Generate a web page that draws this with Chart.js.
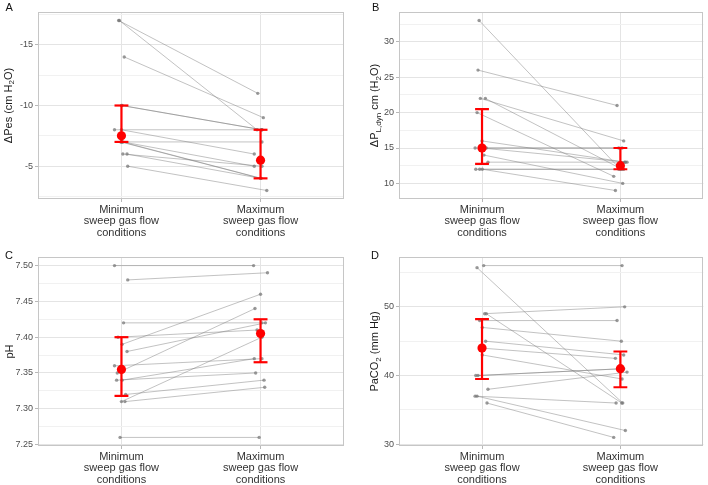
<!DOCTYPE html>
<html>
<head>
<meta charset="utf-8">
<script src="https://cdn.jsdelivr.net/npm/chart.js@4.4.1/dist/chart.umd.min.js"></script>
<style>
  body { margin: 0; background: #fff; }
  #wrap { position: relative; width: 708px; height: 485px; overflow: hidden; }
  canvas { position: absolute; }
</style>
</head>
<body>
<div id="wrap">
  <canvas id="chartA" width="354" height="242" style="left:0;top:0"></canvas>
  <canvas id="chartB" width="354" height="242" style="left:354px;top:0"></canvas>
  <canvas id="chartC" width="354" height="243" style="left:0;top:242px"></canvas>
  <canvas id="chartD" width="354" height="243" style="left:354px;top:242px"></canvas>
</div>
<script>
const categories = [
  ["Minimum", "sweep gas flow", "conditions"],
  ["Maximum", "sweep gas flow", "conditions"]
];

// A - ΔPes (cm H2O), one entry per patient
const pesMin = [-17, -17, -14, -10, -10, -8, -8, -7, -7, -7, -7, -6, -6, -5];
const pesMax = [-11, -8, -9, -8, -8, -8, -6, -7, -5, -4, -4, -5, -4, -3];
const pesJitterMin = [-0.02, -0.015, 0.02, 0, 0.005, -0.05, 0, 0, 0.01, -0.005, 0.005, 0.01, 0.04, 0.045];
const pesJitterMax = [-0.02, -0.025, 0.02, 0.01, 0.01, 0.005, -0.045, 0.01, -0.045, 0, 0.005, 0.01, 0, 0.045];
const pesMedian = [-7.5, -5.5];
const pesLow = [-10, -8];
const pesHigh = [-7, -4];
const pesTicks = [-15, -10, -5];

// B - ΔPL,dyn cm (H2O)
const pldynMin = [33, 26, 22, 22, 20, 16, 15, 15, 15, 14, 13, 12, 12, 12];
const pldynMax = [12, 21, 16, 12, 11, 13, 15, 15, 13, 10, 13, 12, 12, 9];
const pldynJitterMin = [-0.021, -0.029, -0.012, 0.024, -0.036, 0, -0.05, 0.031, -0.005, 0.014, 0.043, -0.045, -0.017, 0.002];
const pldynJitterMax = [0, -0.024, 0.024, 0.012, -0.048, 0.036, -0.012, 0.012, 0.048, 0.017, 0.031, -0.012, 0.024, -0.036];
const pldynMedian = [15, 12.5];
const pldynLow = [12.75, 12];
const pldynHigh = [20.5, 15];
const pldynTicks = [10, 15, 20, 25, 30];

// C - pH
const phMin = [7.50, 7.48, 7.42, 7.40, 7.39, 7.38, 7.36, 7.35, 7.34, 7.34, 7.32, 7.31, 7.31, 7.26];
const phMax = [7.50, 7.49, 7.42, 7.41, 7.46, 7.42, 7.37, 7.44, 7.35, 7.37, 7.34, 7.40, 7.33, 7.26];
const phJitterMin = [-0.05, 0.045, 0.015, -0.025, 0.005, 0.04, -0.05, -0.03, -0.035, 0.005, 0.03, 0, 0.025, -0.01];
const phJitterMax = [-0.05, 0.05, 0.01, -0.025, 0, 0.035, 0.01, -0.04, -0.035, -0.045, 0.025, 0.01, 0.03, -0.01];
const phMedian = [7.355, 7.405];
const phLow = [7.318, 7.365];
const phHigh = [7.40, 7.425];
const phTicks = [7.25, 7.30, 7.35, 7.40, 7.45, 7.50];

// D - PaCO2 (mm Hg)
const paco2Min = [56, 55.7, 49, 49, 48, 47, 45, 44, 43, 40, 40, 38, 37, 37, 36];
const paco2Max = [56, 36, 50, 36, 48, 45, 43, 42.5, 39.5, 41, 41, 40.5, 36, 32, 31];
const paco2JitterMin = [0.012, -0.036, 0.019, 0.031, -0.017, 0.002, 0.026, -0.005, 0.002, -0.045, -0.029, 0.043, -0.05, -0.036, 0.036];
const paco2JitterMax = [0.012, 0.017, 0.031, 0.01, -0.024, 0.007, 0.024, -0.036, 0.012, 0.024, 0.017, 0.048, -0.031, 0.036, -0.048];
const paco2Median = [44, 41];
const paco2Low = [39.5, 38.3];
const paco2High = [48.2, 43.5];
const paco2Ticks = [30, 40, 50];

Chart.defaults.font.family = "'Liberation Sans', Arial, sans-serif";
Chart.defaults.animation = false;

const RED = "#ff0000";
const CAP = 0.05;

function gridValues(ticks, lo, hi) {
  const step = ticks[1] - ticks[0];
  const out = [];
  const first = ticks[0] - step * Math.ceil((ticks[0] - lo) / step);
  for (let v = first; v <= hi + 1e-9; v += step / 2) {
    if (v >= lo - 1e-9) out.push(+v.toFixed(4));
  }
  return out;
}

// draws the panel letter, the y title (with subscripts) and the panel border
const panelDecor = {
  id: "panelDecor",
  afterDraw(chart, args, o) {
    const ctx = chart.ctx;
    const a = chart.chartArea;
    ctx.save();
    ctx.strokeStyle = "#c6c6c6";
    ctx.lineWidth = 1;
    ctx.strokeRect(Math.round(a.left) + 0.5, Math.round(a.top) + 0.5,
      Math.round(a.right - a.left) - 1, Math.round(a.bottom - a.top) - 1);

    ctx.fillStyle = "#111";
    ctx.font = "11px 'Liberation Sans', Arial, sans-serif";
    ctx.textBaseline = "alphabetic";
    ctx.textAlign = "left";
    ctx.fillText(o.letter, o.letterX, o.letterY);

    const big = "11px 'Liberation Sans', Arial, sans-serif";
    const small = "8px 'Liberation Sans', Arial, sans-serif";
    let total = 0;
    o.title.forEach(p => { ctx.font = p[1] ? small : big; total += ctx.measureText(p[0]).width; });
    ctx.translate(o.titleX, (a.top + a.bottom) / 2);
    ctx.rotate(-Math.PI / 2);
    let x = -total / 2;
    ctx.fillStyle = "#1a1a1a";
    o.title.forEach(p => {
      ctx.font = p[1] ? small : big;
      ctx.fillText(p[0], x, p[1] ? 2.5 : 0);
      x += ctx.measureText(p[0]).width;
    });
    ctx.restore();
  }
};

function makePanel(id, p) {
  const red = [];
  const gray = [];
  for (let k = 0; k < 2; k++) {
    const cx = k + 1;
    red.push({ data: [{ x: cx, y: p.low[k] }, { x: cx, y: p.high[k] }] });
    red.push({ data: [{ x: cx - CAP, y: p.low[k] }, { x: cx + CAP, y: p.low[k] }] });
    red.push({ data: [{ x: cx - CAP, y: p.high[k] }, { x: cx + CAP, y: p.high[k] }] });
  }
  const redBars = red.map(d => Object.assign(d, {
    showLine: true, borderColor: RED, borderWidth: 2.2, pointRadius: 0
  }));
  const medians = {
    data: p.median.map((v, k) => ({ x: k + 1, y: v })),
    showLine: false, pointRadius: 4.6, pointBackgroundColor: RED, pointBorderWidth: 0
  };
  for (let i = 0; i < p.min.length; i++) {
    gray.push({
      data: [{ x: 1 + p.jMin[i], y: p.min[i] }, { x: 2 + p.jMax[i], y: p.max[i] }],
      showLine: true,
      borderColor: "rgba(120,120,120,0.45)",
      borderWidth: 1,
      pointRadius: 1.7,
      pointBackgroundColor: "rgba(120,120,120,0.75)",
      pointBorderWidth: 0
    });
  }

  const grid = gridValues(p.ticks, p.yMin, p.yMax);
  const isMajor = v => p.ticks.some(t => Math.abs(t - v) < 1e-6);

  new Chart(document.getElementById(id), {
    type: "scatter",
    data: { datasets: [medians, ...redBars, ...gray] },
    options: {
      responsive: false,
      layout: { padding: { left: 0, top: p.top, right: p.right, bottom: 0 } },
      plugins: {
        legend: { display: false },
        tooltip: { enabled: false },
        panelDecor: { letter: p.letter, letterX: p.letterX, letterY: p.letterY, title: p.title, titleX: p.titleX }
      },
      scales: {
        x: {
          type: "linear",
          min: 0.4,
          max: 2.6,
          afterBuildTicks: s => { s.ticks = [{ value: 1 }, { value: 2 }]; },
          afterFit: s => { s.height = p.bottom; },
          border: { display: false },
          grid: { color: "#e4e4e4", lineWidth: 1, tickLength: 3, tickColor: "#b8b8b8" },
          ticks: {
            autoSkip: false,
            maxRotation: 0,
            padding: 2,
            color: "#333",
            font: { size: 11, lineHeight: 1.05 },
            callback: v => categories[Math.round(v) - 1] || ""
          }
        },
        y: {
          type: "linear",
          min: p.yMin,
          max: p.yMax,
          reverse: !!p.reverse,
          afterBuildTicks: s => { s.ticks = grid.map(v => ({ value: v })); },
          afterFit: s => { s.width = p.left; },
          border: { display: false },
          grid: {
            color: c => (c.tick && isMajor(c.tick.value)) ? "#e4e4e4" : "#f1f1f1",
            lineWidth: 1,
            tickLength: 3,
            tickColor: c => (c.tick && isMajor(c.tick.value)) ? "#b8b8b8" : "rgba(0,0,0,0)"
          },
          ticks: {
            autoSkip: false,
            padding: 2,
            color: "#4d4d4d",
            font: { size: 9 },
            callback: v => isMajor(v) ? v.toFixed(p.decimals) : ""
          }
        }
      }
    },
    plugins: [panelDecor]
  });
}

makePanel("chartA", {
  min: pesMin, max: pesMax, jMin: pesJitterMin, jMax: pesJitterMax,
  median: pesMedian, low: pesLow, high: pesHigh, ticks: pesTicks, decimals: 0,
  yMin: -17.7, yMax: -2.3, reverse: true,
  left: 38, top: 12, right: 10, bottom: 43,
  letter: "A", letterX: 5.5, letterY: 10.5, titleX: 11.5,
  title: [["ΔPes (cm H", false], ["2", true], ["O)", false]]
});

makePanel("chartB", {
  min: pldynMin, max: pldynMax, jMin: pldynJitterMin, jMax: pldynJitterMax,
  median: pldynMedian, low: pldynLow, high: pldynHigh, ticks: pldynTicks, decimals: 0,
  yMin: 7.8, yMax: 34.2,
  left: 45, top: 12, right: 2, bottom: 43,
  letter: "B", letterX: 18, letterY: 10.5, titleX: 24,
  title: [["ΔP", false], ["L,dyn", true], [" cm (H", false], ["2", true], ["O)", false]]
});

makePanel("chartC", {
  min: phMin, max: phMax, jMin: phJitterMin, jMax: phJitterMax,
  median: phMedian, low: phLow, high: phHigh, ticks: phTicks, decimals: 2,
  yMin: 7.248, yMax: 7.512,
  left: 38, top: 15, right: 10, bottom: 39,
  letter: "C", letterX: 5, letterY: 16.5, titleX: 12.7,
  title: [["pH", false]]
});

makePanel("chartD", {
  min: paco2Min, max: paco2Max, jMin: paco2JitterMin, jMax: paco2JitterMax,
  median: paco2Median, low: paco2Low, high: paco2High, ticks: paco2Ticks, decimals: 0,
  yMin: 29.75, yMax: 57.25,
  left: 45, top: 15, right: 2, bottom: 39,
  letter: "D", letterX: 17, letterY: 16.5, titleX: 24,
  title: [["PaCO", false], ["2", true], [" (mm Hg)", false]]
});
</script>
</body>
</html>
